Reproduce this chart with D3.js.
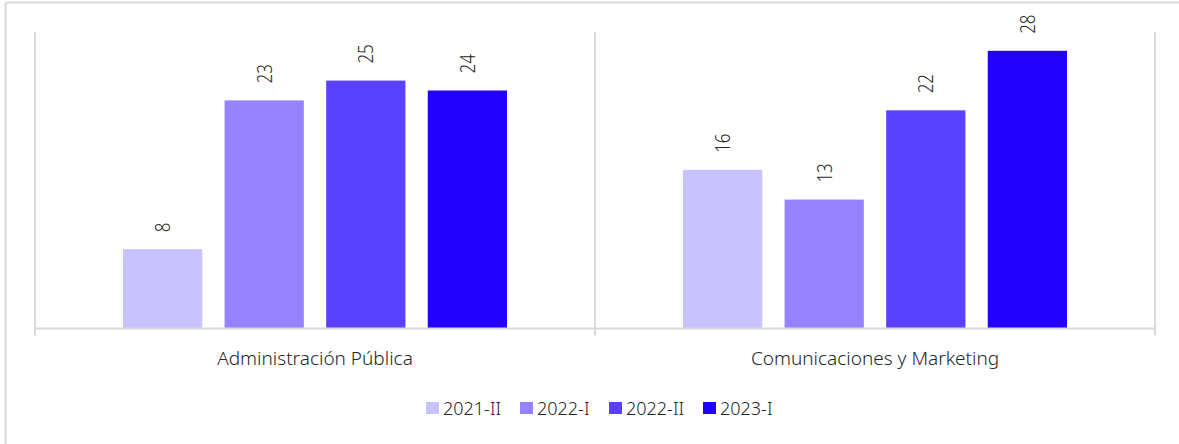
<!DOCTYPE html>
<html>
<head>
<meta charset="utf-8">
<script src="https://cdn.jsdelivr.net/npm/d3@7"></script>
<style>
  html, body { margin: 0; padding: 0; background: #fff; }
  svg { display: block; font-family: "Noto Sans", "Open Sans", sans-serif; }
</style>
</head>
<body>
<svg id="chart" width="1179" height="444"></svg>
<script>
const categories = ["Administración Pública", "Comunicaciones y Marketing"];
const seriesNames = ["2021-II", "2022-I", "2022-II", "2023-I"];
const seriesColors = ["#c8c2fe", "#9682ff", "#5a40ff", "#2200ff"];
const values2021II = [8, 16];
const values2022I = [23, 13];
const values2022II = [25, 22];
const values2023I = [24, 28];
const seriesValues = [values2021II, values2022I, values2022II, values2023I];

const svg = d3.select("#chart");
const W = 1179, H = 444;
const plot = { left: 35, right: 1155, top: 31, bottom: 328.5 };
const axisColor = "#d9d9d9";
const textColor = "#262626";

// outer frame
svg.append("line").attr("x1", 5.5).attr("x2", 5.5).attr("y1", 2.5).attr("y2", H)
  .attr("stroke", axisColor).attr("stroke-width", 2);
svg.append("line").attr("x1", 5.5).attr("x2", W).attr("y1", 2.5).attr("y2", 2.5)
  .attr("stroke", axisColor).attr("stroke-width", 2);

const x0 = d3.scaleBand().domain(categories).range([plot.left, plot.right]).padding(0);
const groupPad = 88;
const x1 = d3.scaleBand().domain(seriesNames)
  .range([groupPad, x0.bandwidth() - groupPad]).paddingInner(0.22).paddingOuter(0);
const y = d3.scaleLinear().domain([0, 30]).range([plot.bottom, plot.top]);

// bars
const groups = svg.append("g").selectAll("g").data(categories).join("g")
  .attr("transform", d => `translate(${x0(d)},0)`);

groups.each(function(cat, ci) {
  const g = d3.select(this);
  seriesNames.forEach((s, si) => {
    const v = seriesValues[si][ci];
    g.append("rect")
      .attr("x", x1(s)).attr("width", x1.bandwidth())
      .attr("y", y(v)).attr("height", y(0) - y(v))
      .attr("fill", seriesColors[si]);
    const cx = x1(s) + x1.bandwidth() / 2;
    const ty = y(v) - 17;
    g.append("text")
      .attr("transform", `translate(${cx + 7.5},${ty}) rotate(-90) scale(0.85,1)`)
      .attr("text-anchor", "start")
      .attr("font-size", 20)
      .attr("font-weight", 300)
      .attr("fill", textColor)
      .text(v);
  });
});

// axes lines
const axisG = svg.append("g");
axisG.append("line").attr("x1", plot.left).attr("x2", plot.right)
  .attr("y1", plot.bottom).attr("y2", plot.bottom)
  .attr("stroke", axisColor).attr("stroke-width", 2);
const sepX = [plot.left, ...categories.slice(1).map(c => x0(c)), plot.right];
sepX.forEach(xx => {
  axisG.append("line").attr("x1", xx).attr("x2", xx)
    .attr("y1", plot.top + 1).attr("y2", plot.bottom + 7)
    .attr("stroke", axisColor).attr("stroke-width", 2);
});

// category labels
svg.append("g").selectAll("text").data(categories).join("text")
  .attr("x", d => x0(d) + x0.bandwidth() / 2)
  .attr("y", 365)
  .attr("text-anchor", "middle")
  .attr("font-size", 19)
  .attr("font-weight", 300)
  .attr("fill", textColor)
  .text(d => d);

// legend
const legendX = [426, 520, 609, 703];
const legend = svg.append("g");
seriesNames.forEach((s, i) => {
  legend.append("rect").attr("x", legendX[i]).attr("y", 402)
    .attr("width", 13).attr("height", 12).attr("fill", seriesColors[i]);
  legend.append("text").attr("x", legendX[i] + 17).attr("y", 415)
    .attr("font-size", 18).attr("font-weight", 300).attr("fill", textColor)
    .text(s);
});
</script>
</body>
</html>
